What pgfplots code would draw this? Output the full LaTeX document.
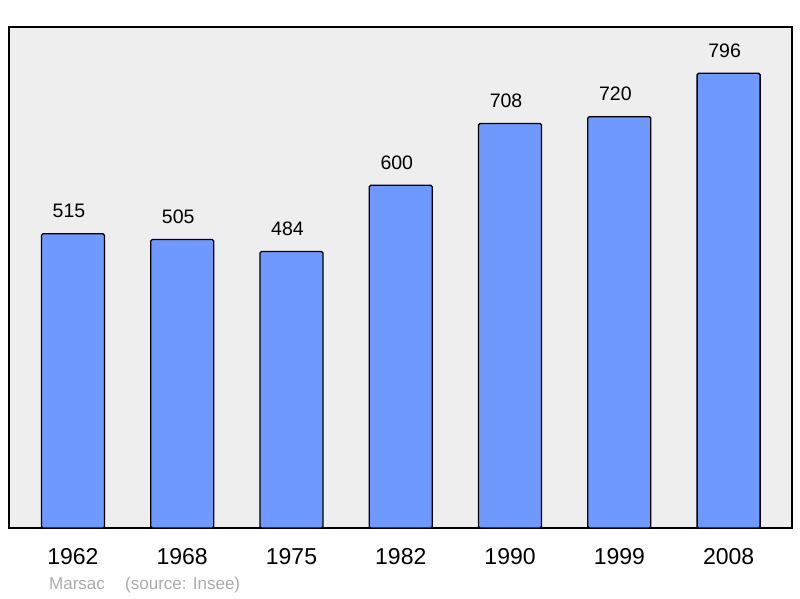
\documentclass[border=0pt]{standalone}
\usepackage{pgfplots}
\pgfplotsset{compat=1.18}
\usepackage{fontspec}
\setmainfont{Liberation Sans}
\definecolor{barblue}{RGB}{112,153,255}
\definecolor{panel}{RGB}{238,238,238}
\definecolor{note}{RGB}{170,170,170}
\begin{document}
\begin{tikzpicture}[x=1pt,y=1pt]
  \path[use as bounding box] (-9,-70) rectangle (791,528);
  \begin{axis}[
      at={(0,0)}, anchor=south west,
      scale only axis,
      width=783pt, height=501pt,
      xmin=-0.585, xmax=6.58,
      ymin=0, ymax=877,
      axis line style={line width=2pt},
      axis background/.style={fill=panel},
      ytick=\empty,
      xtick={0,1,2,3,4,5,6},
      xticklabels={1962,1968,1975,1982,1990,1999,2008},
      major tick length=0pt,
      xticklabel style={font=\fontsize{23}{27}\selectfont, inner sep=0pt, anchor=north, yshift=-20pt},
      /pgf/number format/assume math mode=true,
      ybar, bar width=63pt,
      nodes near coords,
      nodes near coords style={font=\fontsize{19.5}{23}\selectfont, anchor=south, inner sep=0pt, yshift=15pt, xshift=-4pt},
    ]
    \addplot[fill=barblue, draw=black, line width=1.3pt, rounded corners=1.5pt]
      coordinates {(0,515) (1,505) (2,484) (3,600) (4,708) (5,720) (6,796)};
  \end{axis}
  \node[anchor=base west, inner sep=0pt, text=note, font=\fontsize{17}{20}\selectfont] at (40,-61) {Marsac};
  \node[anchor=base west, inner sep=0pt, text=note, font=\fontsize{17}{20}\selectfont] at (116,-61) {(source: Insee)};
\end{tikzpicture}
\end{document}
